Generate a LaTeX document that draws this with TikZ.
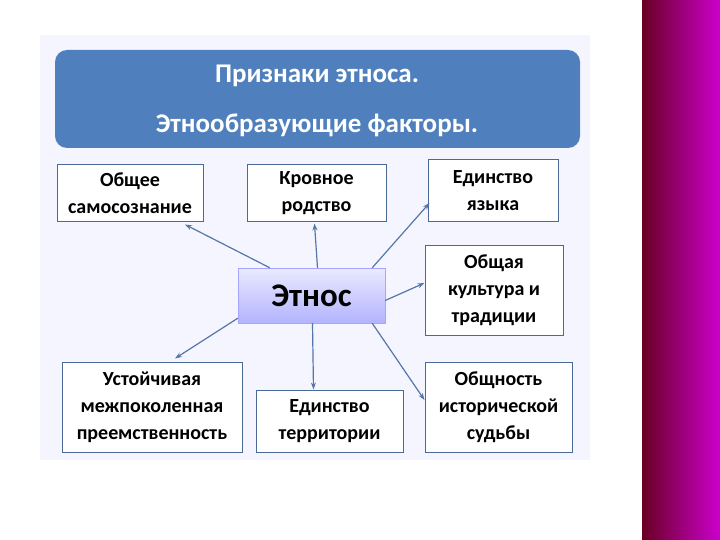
\documentclass[tikz,border=0pt]{standalone}
\usepackage{fontspec}
\setmainfont{Carlito}
\usetikzlibrary{arrows.meta,positioning,calc}
\definecolor{headblue}{HTML}{4F80BD}
\definecolor{frameblue}{HTML}{4A6A96}
\definecolor{arrowblue}{HTML}{5577A8}
\tikzset{
  factor/.style={draw=frameblue,fill=white,line width=1pt,align=center,inner sep=0,font=\bfseries\fontsize{20}{27}\selectfont},
  link/.style={-{Stealth[length=7pt,width=5pt]},draw=arrowblue,line width=1.2pt}
}
\begin{document}
\begin{tikzpicture}[x=1pt,y=-1pt]
    \useasboundingbox (0,0) rectangle (720,540);
    \fill[white] (0,0) rectangle (720,540);
    % Background
    \shade[left color=purple!55!black,right color=magenta!60!violet] (642,0) rectangle (720,540);
    \fill[blue!4] (40,35) rectangle (590,460);
    \fill[headblue,rounded corners=12pt] (55,50) rectangle (580,148);
    \node[text=white,font=\bfseries\fontsize{27}{50}\selectfont,align=center] (title) at (317,101) {Признаки этноса.\\Этнообразующие факторы.};
    % Nodes
    \node[factor,minimum width=146,minimum height=57] (self) at (130,193.5) {Общее\\самосознание};
    \node[factor,minimum width=139,minimum height=57] (blood) at (316.5,193.5) {Кровное\\родство};
    \node[factor,minimum width=130,minimum height=62] (lang) at (493,191) {Единство\\языка};
    \node[factor,minimum width=138,minimum height=90] (cult) at (494,290) {Общая\\культура и\\традиции};
    \node[factor,minimum width=180,minimum height=90] (gen) at (152,407) {Устойчивая\\межпоколенная\\преемственность};
    \node[factor,minimum width=147,minimum height=62] (terr) at (329.5,421) {Единство\\территории};
    \node[factor,minimum width=147,minimum height=90] (hist) at (498.5,407) {Общность\\исторической\\судьбы};
    \node[draw=blue!35,top color=blue!8,bottom color=blue!30,minimum width=147,minimum height=55,inner sep=0,
          font=\bfseries\fontsize{33}{36}\selectfont] (ethnos) at (311.5,295.5) {Этнос};
    % Connections
    \draw[link] ($(ethnos.north west)+(32,0)$) -- ($(self.south)+(55,2)$);
    \draw[link] ($(ethnos.north)+(6,0)$) -- ($(blood.south)+(-2,1)$);
    \draw[link] ($(ethnos.north east)+(-13,0)$) -- ($(lang.west)+(2,12)$);
    \draw[link] ($(ethnos.east)+(0,5)$) -- ($(cult.west)+(0,-7)$);
    \draw[link] ($(ethnos.south west)+(0,-5)$) -- ($(gen.north)+(23,-3)$);
    \draw[link] ($(ethnos.south)+(1,0)$) -- ($(terr.north)+(-16,0)$);
    \draw[link] ($(ethnos.south east)+(-13,0)$) -- ($(hist.west)+(0,-7)$);
\end{tikzpicture}
\end{document}
